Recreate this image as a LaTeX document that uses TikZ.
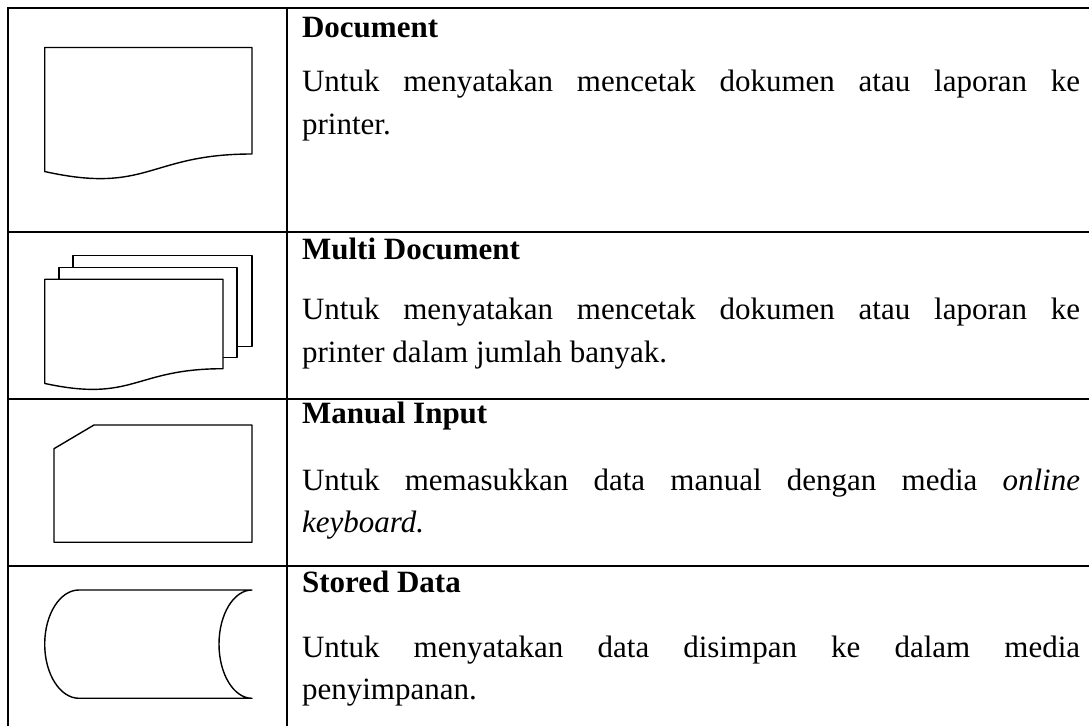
\documentclass[tikz,border=0pt]{standalone}
\usepackage{fontspec}
\setmainfont{Liberation Serif}

% flowchart "document" page, width #1 and height #2, wavy bottom edge
\tikzset{
  pics/docpage/.style 2 args={code={
    \draw[symbol] (0,0) -- (#1,0) -- (#1,0.802*#2)
      .. controls (0.5*#1,0.802*#2) and (0.5*#1,1.1075*#2) .. (0,0.934*#2) -- cycle;
  }}
}

\begin{document}
\begin{tikzpicture}[
    x=0.5pt, y=-0.5pt,
    grid/.style={line width=1pt},
    symbol/.style={line width=0.7pt, line join=round, fill=white},
    head/.style={anchor=base west, inner sep=0pt,
                 font=\fontsize{15.5}{21}\selectfont\bfseries},
    desc/.style={anchor=base west, inner sep=0pt, text width=389pt,
                 align=justify, font=\fontsize{15.5}{21.2}\selectfont}
  ]
  \useasboundingbox (0,0) rectangle (1089,726);

  % table rules
  \draw[grid] (1089,8) -- (8,8) -- (8,726);
  \draw[grid] (287,8) -- (287,726);
  \foreach \y in {231.7,399,565.7}
    \draw[grid] (8,\y) -- (1089,\y);

  % symbols
  \pic at (44.7,47.5) {docpage={207.3}{132.8}};

  \draw[symbol] (73,255.7) rectangle (252,346.7);
  \draw[symbol] (59,267.7) rectangle (237,357.7);
  \pic at (44.7,279.3) {docpage={178.3}{111.5}};

  \draw[symbol] (54,448.7) -- (94,425) -- (252,425) -- (252,542.3)
    -- (54,542.3) -- cycle;

  \draw[symbol] (79,590) -- (252,590)
    arc[start angle=270, end angle=90, x radius=33, y radius=54.15]
    -- (79,698.3)
    arc[start angle=90, end angle=270, x radius=34.3, y radius=54.15] -- cycle;

  % descriptions
  \node[head] (doc) at (301.7,37.5) {Document};
  \node[desc] (doc-text) at (301.7,92)
    {Untuk menyatakan mencetak dokumen atau laporan ke\linebreak printer.};

  \node[head] (multidoc) at (301.7,259.7) {Multi Document};
  \node[desc] (multidoc-text) at (301.7,320)
    {Untuk menyatakan mencetak dokumen atau laporan ke\linebreak printer dalam jumlah banyak.};

  \node[head] (manual) at (301.7,423.5) {Manual Input};
  \node[desc] (manual-text) at (301.7,490.5)
    {Untuk memasukkan data manual dengan media \textit{online}\linebreak \textit{keyboard.}};

  \node[head] (stored) at (301.7,593) {Stored Data};
  \node[desc] (stored-text) at (301.7,657.5)
    {Untuk menyatakan data disimpan ke dalam media\linebreak penyimpanan.};
\end{tikzpicture}
\end{document}
